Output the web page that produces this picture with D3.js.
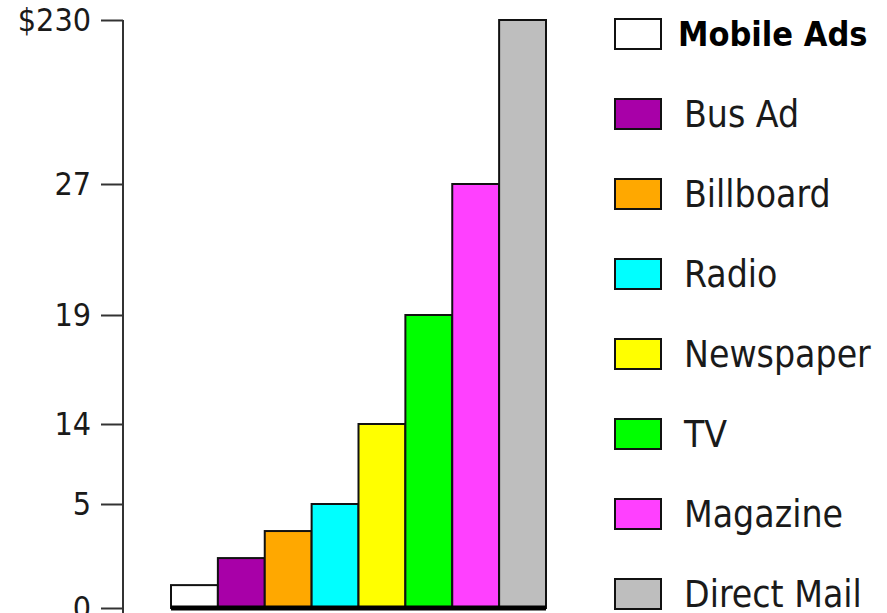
<!DOCTYPE html>
<html>
<head>
<meta charset="utf-8">
<script src="https://cdn.jsdelivr.net/npm/d3@7"></script>
<style>
  body { margin: 0; background: #fff; }
  svg { display: block; }
</style>
</head>
<body>
<svg id="chart" width="887" height="613"></svg>
<script>
// data
const categories = ["Mobile Ads", "Bus Ad", "Billboard", "Radio", "Newspaper", "TV", "Magazine", "Direct Mail"];
const values = [1.1, 2.4, 3.7, 5, 14, 19, 27, 230];
const colors = ["#ffffff", "#a800a8", "#ffa800", "#00ffff", "#ffff00", "#00ff00", "#ff40ff", "#bebebe"];
const tickValues = [0, 5, 14, 19, 27, 230];
const tickLabels = ["0", "5", "14", "19", "27", "$230"];

const width = 887;
const height = 613;
const font = "'DejaVu Sans Condensed', 'DejaVu Sans', sans-serif";

const svg = d3.select("#chart");

// the axis is not linear: ticks sit at uneven steps, so map piecewise
const y = d3.scaleLinear()
  .domain(tickValues)
  .range([608, 504, 424, 315, 184, 20]);

const x = d3.scaleBand()
  .domain(categories)
  .range([171, 546])
  .padding(0);

// y axis
const yAxis = svg.append("g")
  .attr("class", "y-axis")
  .attr("transform", "translate(123,0)")
  .call(
    d3.axisLeft(y)
      .tickValues(tickValues)
      .tickFormat((d, i) => tickLabels[i])
      .tickSize(22)
      .tickSizeOuter(0)
      .tickPadding(10)
  );

yAxis.select(".domain")
  .attr("stroke", "#333")
  .attr("stroke-width", 2)
  .attr("d", `M0,${y(230)}V${height + 5}`);
yAxis.selectAll(".tick line").attr("stroke", "#333").attr("stroke-width", 2);
yAxis.selectAll(".tick text")
  .attr("fill", "#1a1a1a")
  .style("font-family", font)
  .style("font-size", "32px");

// bars
svg.append("g")
  .selectAll("rect")
  .data(values)
  .join("rect")
  .attr("x", (d, i) => x(categories[i]))
  .attr("y", (d) => y(d))
  .attr("width", x.bandwidth())
  .attr("height", (d) => y(0) - y(d))
  .attr("fill", (d, i) => colors[i])
  .attr("stroke", "#111")
  .attr("stroke-width", 2);

// thick baseline under the bars
svg.append("line")
  .attr("x1", x.range()[0])
  .attr("x2", x.range()[1])
  .attr("y1", y(0))
  .attr("y2", y(0))
  .attr("stroke", "#000")
  .attr("stroke-width", 5);

// legend
const legend = svg.append("g")
  .selectAll("g")
  .data(categories)
  .join("g")
  .attr("transform", (d, i) => `translate(615,${34 + i * 80})`);

legend.append("rect")
  .attr("x", 0)
  .attr("y", -15)
  .attr("width", 46)
  .attr("height", 30)
  .attr("fill", (d, i) => colors[i])
  .attr("stroke", "#111")
  .attr("stroke-width", 2);

legend.append("text")
  .attr("x", (d, i) => (i === 0 ? 63 : 69))
  .attr("dy", "0.36em")
  .attr("fill", (d, i) => (i === 0 ? "#000" : "#1a1a1a"))
  .style("font-family", font)
  .style("font-size", (d, i) => (i === 0 ? "34px" : "37px"))
  .style("font-weight", (d, i) => (i === 0 ? "bold" : "normal"))
  .text((d) => d);
</script>
</body>
</html>
